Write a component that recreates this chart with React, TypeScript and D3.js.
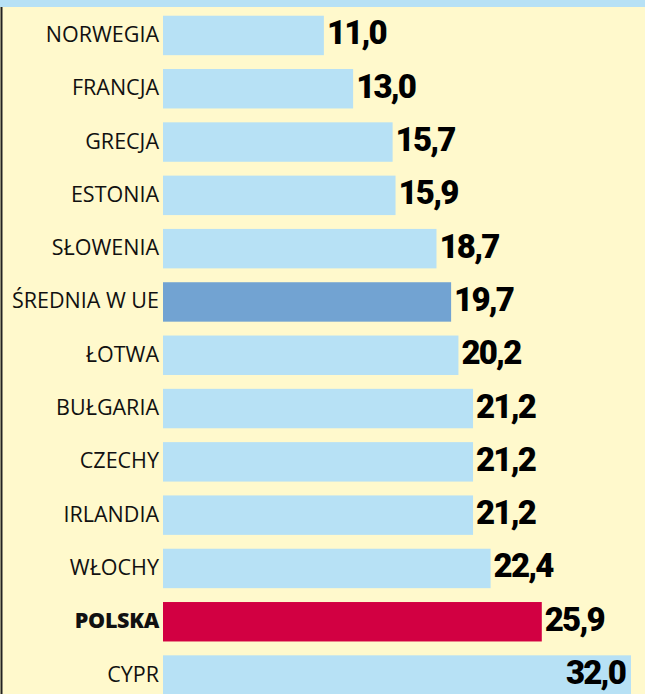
import React from "react";
import * as d3 from "d3";

const categories = ["NORWEGIA","FRANCJA","GRECJA","ESTONIA","SŁOWENIA","ŚREDNIA W UE","ŁOTWA","BUŁGARIA","CZECHY","IRLANDIA","WŁOCHY","POLSKA","CYPR"];
const values = [11.0,13.0,15.7,15.9,18.7,19.7,20.2,21.2,21.2,21.2,22.4,25.9,32.0];
const labels = ["11,0","13,0","15,7","15,9","18,7","19,7","20,2","21,2","21,2","21,2","22,4","25,9","32,0"];

const W = 645, H = 694;
const BG = "#FFF9CC";
const LIGHT = "#B7E1F5";
const AVG = "#72A3D2";
const PL = "#D20042";

export default function App() {
  const x = d3.scaleLinear().domain([0, 32]).range([163, 631]);
  const y = d3.scaleBand<string>().domain(categories).range([8.8, 8.8 + 53.3 * 13]).paddingInner(0.26).paddingOuter(0.13);
  return (
    <svg width={W} height={H} style={{ position: "absolute", left: 0, top: 0, display: "block" }}>
      <rect x={0} y={0} width={W} height={H} fill={BG} />
      <rect x={0} y={0} width={W} height={7} fill={LIGHT} />
      <line x1={1.5} x2={1.5} y1={7} y2={H} stroke="#222" strokeWidth={2} />
      {categories.map((c, i) => {
        const y0 = y(c)!;
        const bh = y.bandwidth();
        const cy = y0 + bh / 2;
        const fill = c === "POLSKA" ? PL : c === "ŚREDNIA W UE" ? AVG : LIGHT;
        const xe = x(values[i]);
        const inside = xe + 4 + 60 > W - 4;
        return (
          <g key={c}>
            <rect x={x(0)} y={y0} width={xe - x(0)} height={bh} fill={fill} />
            <text x={159} y={cy + 6.5} textAnchor="end" fontFamily="'Open Sans', 'Noto Sans', sans-serif" fontSize={21.5} fontWeight={c === "POLSKA" ? 800 : 400} letterSpacing={c === "POLSKA" ? -0.3 : 0} fill="#111">{c}</text>
            <text x={inside ? xe - 6 : xe + 3} y={cy + 9} textAnchor={inside ? "end" : "start"} fontFamily="Roboto, sans-serif" fontWeight={900} fontSize={33} letterSpacing={-1.8} fill="#000">{labels[i]}</text>
          </g>
        );
      })}
    </svg>
  );
}
